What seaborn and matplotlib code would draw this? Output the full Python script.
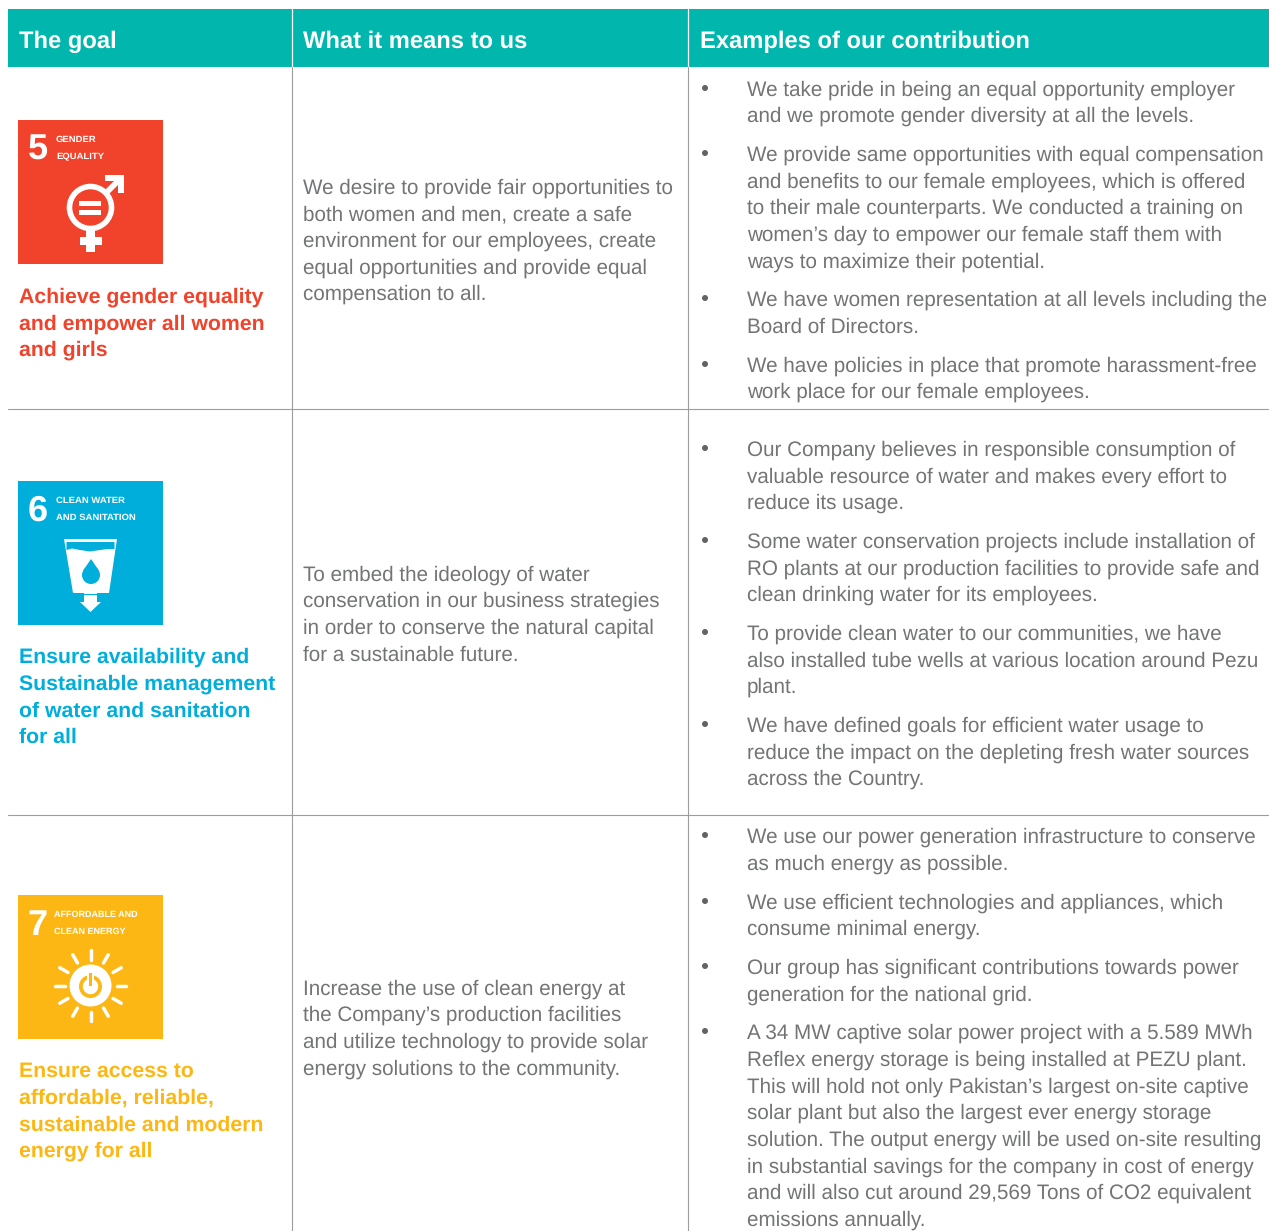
import matplotlib
matplotlib.use("Agg")
import matplotlib.pyplot as plt
from matplotlib.patches import Rectangle, Circle, Polygon, Wedge
import numpy as np
import seaborn as sns

HEADERS = ["The goal", "What it means to us", "Examples of our contribution"]
ICON_NUMBERS = ["5", "6", "7"]
ICON_TITLES = [["GENDER", "EQUALITY"], ["CLEAN WATER", "AND SANITATION"], ["AFFORDABLE AND", "CLEAN ENERGY"]]
GOALS = [
    ["Achieve gender equality", "and empower all women", "and girls"],
    ["Ensure availability and", "Sustainable management", "of water and sanitation", "for all"],
    ["Ensure access to", "affordable, reliable,", "sustainable and modern", "energy for all"],
]
MEANINGS = [
    ["We desire to provide fair opportunities to", "both women and men, create a safe",
     "environment for our employees, create", "equal opportunities and provide equal", "compensation to all."],
    ["To embed the ideology of water", "conservation in our business strategies",
     "in order to conserve the natural capital", "for a sustainable future."],
    ["Increase the use of clean energy at", "the Company\u2019s production facilities",
     "and utilize technology to provide solar", "energy solutions to the community."],
]
EXAMPLES = [
    [["We take pride in being an equal opportunity employer", "and we promote gender diversity at all the levels."],
     ["We provide same opportunities with equal compensation", "and benefits to our female employees, which is offered",
      "to their male counterparts. We conducted a training on", "women\u2019s day to empower our female staff them with",
      "ways to maximize their potential."],
     ["We have women representation at all levels including the", "Board of Directors."],
     ["We have policies in place that promote harassment-free", "work place for our female employees."]],
    [["Our Company believes in responsible consumption of", "valuable resource of water and makes every effort to", "reduce its usage."],
     ["Some water conservation projects include installation of", "RO plants at our production facilities to provide safe and",
      "clean drinking water for its employees."],
     ["To provide clean water to our communities, we have", "also installed tube wells at various location around Pezu", "plant."],
     ["We have defined goals for efficient water usage to", "reduce the impact on the depleting fresh water sources", "across the Country."]],
    [["We use our power generation infrastructure to conserve", "as much energy as possible."],
     ["We use efficient technologies and appliances, which", "consume minimal energy."],
     ["Our group has significant contributions towards power", "generation for the national grid."],
     ["A 34 MW captive solar power project with a 5.589 MWh", "Reflex energy storage is being installed at PEZU plant.",
      "This will hold not only Pakistan\u2019s largest on-site captive", "solar plant but also the largest ever energy storage",
      "solution. The output energy will be used on-site resulting", "in substantial savings for the company in cost of energy",
      "and will also cut around 29,569 Tons of CO2 equivalent", "emissions annually."]],
]
GOAL_Y = [[296, 323, 349], [656, 683, 710, 736], [1070, 1097, 1124, 1150]]
MEANING_Y = [[187, 213, 240, 267, 293], [574, 600, 627, 654], [988, 1014, 1041, 1068]]
EXAMPLE_Y = [
    [[89, 115], [154, 181, 207, 234, 261], [299, 326], [365, 391]],
    [[449, 476, 502], [541, 568, 594], [633, 660, 686], [725, 752, 778]],
    [[836, 863], [902, 928], [967, 994], [1032, 1059, 1086, 1112, 1139, 1166, 1192, 1219]],
]
COLORS = ["#F1432B", "#00AEDB", "#FDB714"]
ICON_TOP = [120, 481, 895]
ICON_TEXT_SIZE = [6.8, 6.8, 6.5]
TEAL = "#00B6AD"
GRAY = "#737476"
BULLET = "#626365"
RULE = "#9C9D9F"

sns.set_theme(style="white")
plt.rcParams["text.hinting"] = "no_hinting"
W, H = 1269, 1231
fig = plt.figure(figsize=(W / 100, H / 100), dpi=100)
ax = fig.add_axes([0, 0, 1, 1])
ax.set_xlim(0, W)
ax.set_ylim(H, 0)
ax.axis("off")

BODY = dict(family="Liberation Sans", fontsize=14.87, color=GRAY, va="center_baseline")
BOLD = dict(family="Liberation Sans", weight="bold", va="center_baseline")
DY = 0.6

# header and rules
ax.add_patch(Rectangle((8, 9), W - 8, 58, fc=TEAL, ec="none"))
for x, label in zip([19, 303, 700], HEADERS):
    ax.text(x, 40 - DY, label, color="white", fontsize=17.1, **BOLD)
for x in [292.5, 688.5]:
    ax.plot([x - 0.5, x - 0.5], [9, 67], color="white", lw=0.9)
    ax.plot([x - 0.5, x - 0.5], [67, H], color=RULE, lw=0.8)
for y in [409, 815]:
    ax.plot([8, W], [y, y], color=RULE, lw=0.8)

# body text
for s in range(3):
    for line, y in zip(GOALS[s], GOAL_Y[s]):
        ax.text(19, y - DY, line, color=COLORS[s], fontsize=15.3, **BOLD)
    for line, y in zip(MEANINGS[s], MEANING_Y[s]):
        ax.text(303, y - DY, line, **BODY)
    for para, ys in zip(EXAMPLES[s], EXAMPLE_Y[s]):
        ax.add_patch(Circle((705, ys[0] - 1), 3, fc=BULLET, ec="none"))
        for line, y in zip(para, ys):
            ax.text(747, y - DY, line, **BODY)

# icons
for s, top in enumerate(ICON_TOP):
    ax.add_patch(Rectangle((18, top), 145, 144, fc=COLORS[s], ec="none"))
    tx = 54 if s == 2 else 56
    ax.text(37.5, top + 27, ICON_NUMBERS[s], color="white", family="Liberation Sans", weight="bold",
            fontsize=26, ha="center", va="center_baseline")
    for i, t in enumerate(ICON_TITLES[s]):
        ax.text(tx, top + 18.5 + 17 * i, t, color="white", family="Liberation Sans", weight="bold",
                fontsize=ICON_TEXT_SIZE[s], va="center_baseline")

C = COLORS
# gender symbol
ax.add_patch(Circle((90.5, 207.5), 21, fc="none", ec="white", lw=4))
for y0, y1 in [(201, 206), (209.5, 215)]:
    ax.add_patch(Rectangle((79, y0), 22, y1 - y0, fc="white", ec="none"))
ax.add_patch(Rectangle((86, 228), 9, 24, fc="white", ec="none"))
ax.add_patch(Rectangle((80, 237), 22, 8, fc="white", ec="none"))
ax.add_patch(Polygon([(105, 175), (124, 175), (124, 193), (118, 193), (118, 185), (108, 195),
                      (104, 191), (114, 181), (105, 181)], fc="white", ec="none"))

# water symbol
ax.add_patch(Polygon([(64, 539), (117, 539), (109, 593), (73, 593)], fc="white", ec="none"))
xs = np.array([66.5, 72, 80, 90, 100, 108, 114.5])
ys = np.array([550, 548.5, 550, 551.5, 550, 549, 549])
ax.add_patch(Polygon([(66.5, 542)] + list(zip(xs, ys)) + [(114.5, 542)], fc=C[1], ec="none"))
ax.add_patch(Circle((91, 575), 9, fc=C[1], ec="none"))
ax.add_patch(Polygon([(83.5, 570), (91, 559), (98.5, 570)], fc=C[1], ec="none"))
ax.add_patch(Rectangle((84, 593), 13, 10, fc="white", ec="none"))
ax.plot([84, 97], [593.5, 593.5], color=C[1], lw=0.8)
ax.add_patch(Polygon([(80, 602), (101, 602), (90.5, 612)], fc="white", ec="none"))

# sun symbol
cx, cy = 90.5, 985.5
for ang in np.deg2rad(np.arange(0, 360, 30)):
    ax.plot([cx + 26 * np.cos(ang), cx + 35.5 * np.cos(ang)], [cy + 26 * np.sin(ang), cy + 35.5 * np.sin(ang)],
            color="white", lw=2.5, solid_capstyle="round")
ax.add_patch(Circle((cx, cy), 21, fc="white", ec="none"))
ax.add_patch(Wedge((cx, cy + 1), 11.5, 0, 360, width=3.8, fc=C[2], ec="none"))
ax.add_patch(Rectangle((cx - 3.8, cy - 14), 7.6, 13, fc="white", ec="none"))
ax.add_patch(Rectangle((cx - 1.7, cy - 13), 3.4, 13, fc=C[2], ec="none"))

fig.savefig("out.png", dpi=100)
